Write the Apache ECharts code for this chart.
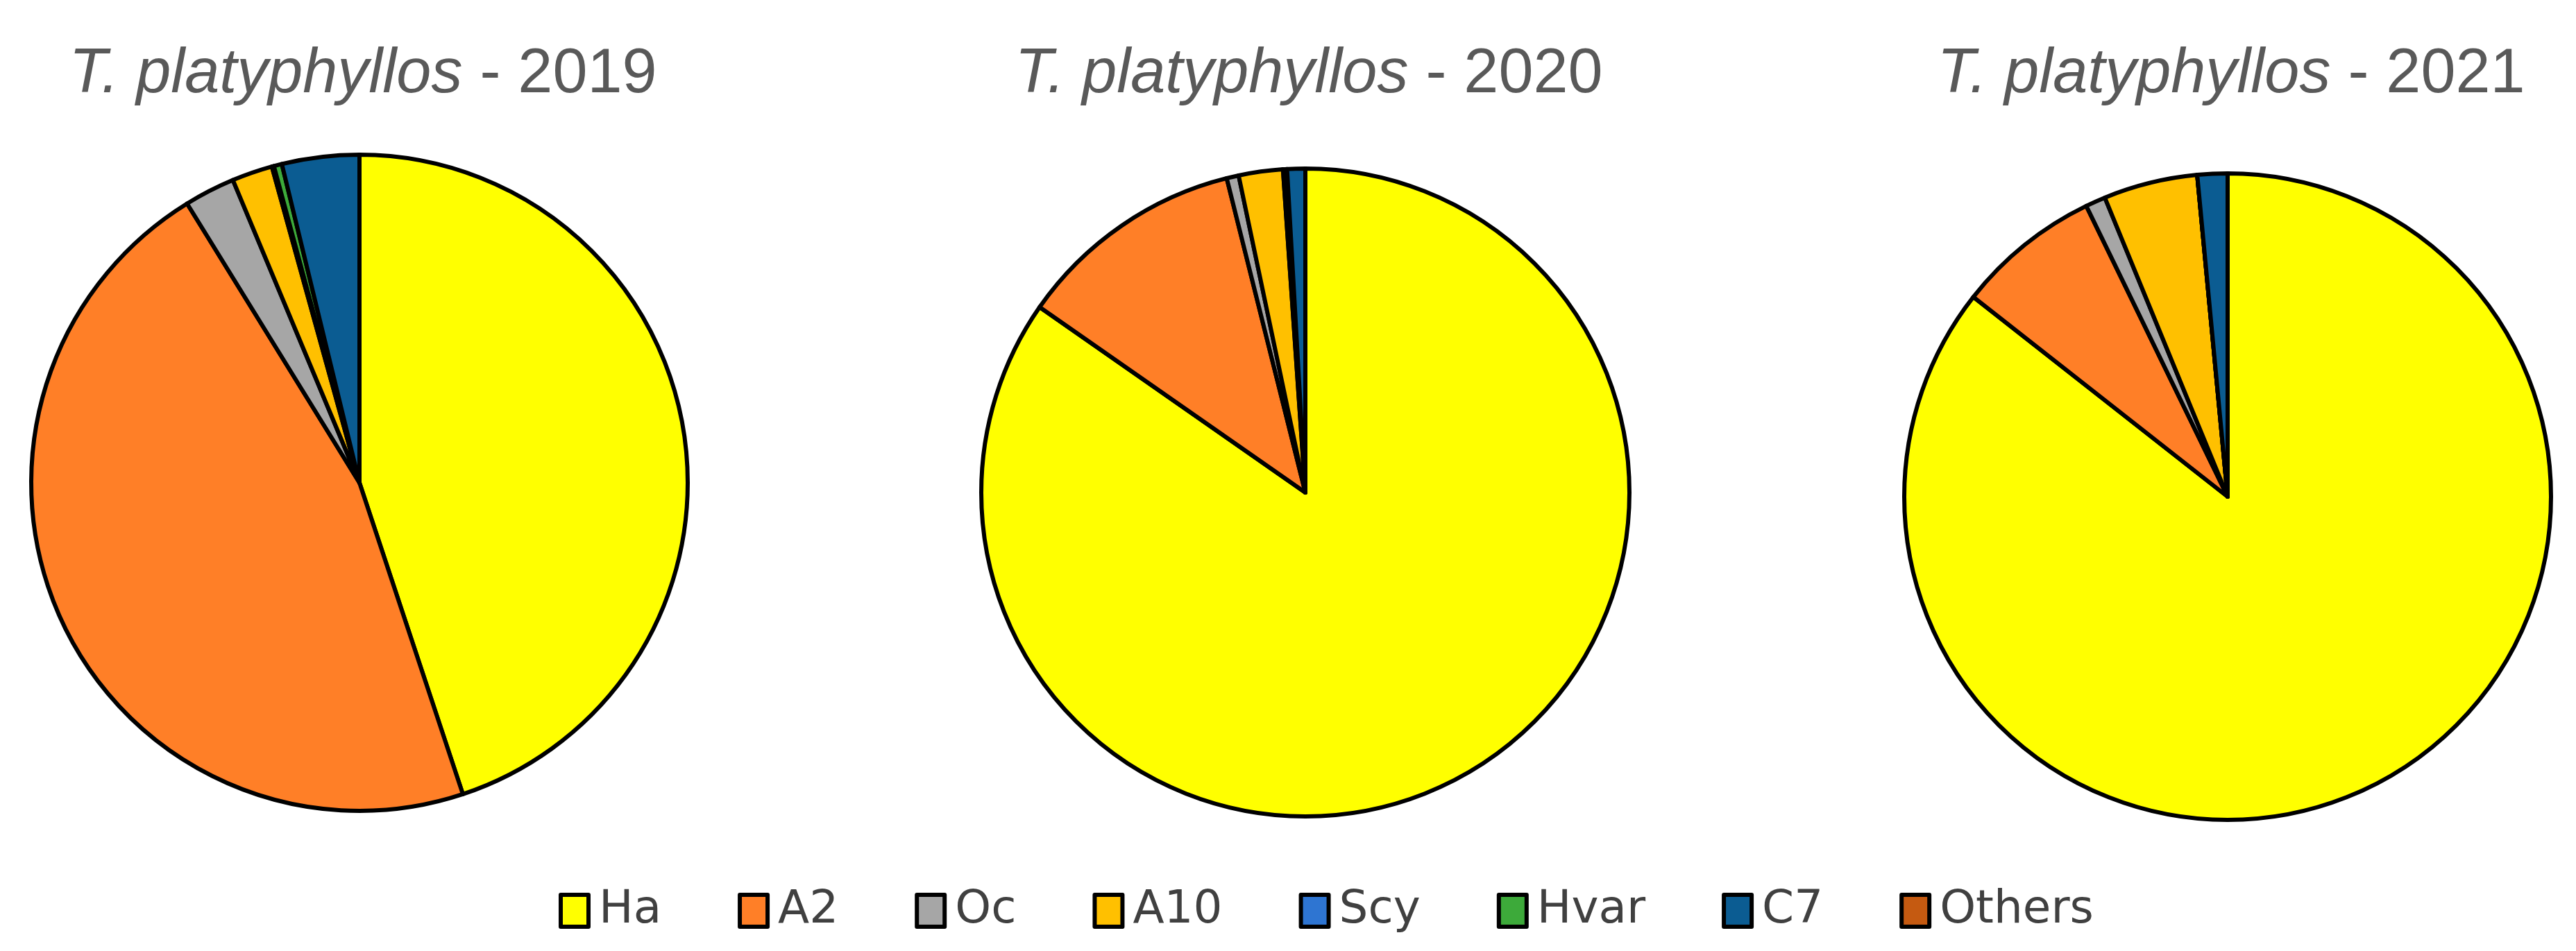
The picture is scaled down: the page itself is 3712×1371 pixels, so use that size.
<!DOCTYPE html>
<html>
<head>
<meta charset="utf-8">
<script src="https://cdn.jsdelivr.net/npm/echarts@6/dist/echarts.min.js"></script>
<style>
html,body{margin:0;padding:0;background:#fff;}
#chart{width:3712px;height:1371px;}
</style>
</head>
<body>
<div id="chart"></div>
<script>
// Categories (legend order)
const categories = ['Ha', 'A2', 'Oc', 'A10', 'Scy', 'Hvar', 'C7', 'Others'];
// Percentages
const values2019 = [44.9, 46.3, 2.5, 2.0, 0.1, 0.4, 3.8, 0];
const values2020 = [84.7, 11.4, 0.6, 2.2, 0.1, 0.1, 0.9, 0];
const values2021 = [85.6, 7.2, 1.0, 4.7, 0, 0, 1.5, 0];
const years = ['2019', '2020', '2021'];
const speciesName = 'T. platyphyllos';

const colors = ['#FFFF00', '#FF7F27', '#A6A6A6', '#FFC000', '#2E75D2', '#3DAA3A', '#0B5C92', '#C55A11'];

const layout = [
  { center: [518, 696], r: 473 },
  { center: [1881, 710], r: 467 },
  { center: [3210, 716], r: 466 }
];
const allValues = [values2019, values2020, values2021];

const chart = echarts.init(document.getElementById('chart'));

const series = allValues.map((vals, i) => ({
  type: 'pie',
  name: years[i],
  center: layout[i].center,
  radius: [0, layout[i].r],
  startAngle: 90,
  clockwise: true,
  animation: false,
  silent: true,
  label: { show: false },
  labelLine: { show: false },
  avoidLabelOverlap: false,
  minAngle: 0,
  itemStyle: { borderColor: '#000', borderWidth: 6 },
  data: categories.map((c, k) => ({ name: c, value: vals[k] }))
}));

const titles = years.map((y, i) => ({
  text: '{i|' + speciesName + '}{n| - ' + y + '}',
  left: layout[i].center[0],
  top: 58,
  textAlign: 'center',
  textStyle: {
    fontWeight: 'normal',
    rich: {
      i: { fontFamily: 'Liberation Sans', fontStyle: 'italic', fontWeight: 'normal', fontSize: 90, color: '#595959' },
      n: { fontFamily: 'Liberation Sans', fontWeight: 'normal', fontSize: 90, color: '#595959' }
    }
  }
}));

chart.setOption({
  backgroundColor: '#fff',
  color: colors,
  animation: false,
  title: titles,
  legend: {
    data: categories,
    left: 800,
    top: 1275,
    itemWidth: 40,
    itemHeight: 46,
    itemGap: 110,
    icon: 'rect',
    itemStyle: { borderColor: '#000', borderWidth: 6 },
    textStyle: { fontFamily: 'DejaVu Sans', fontSize: 66, color: '#404040', padding: [0, 0, 0, 10] }
  },
  series: series
});
</script>
</body>
</html>
